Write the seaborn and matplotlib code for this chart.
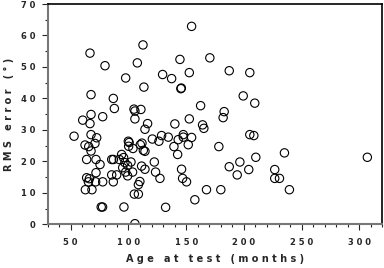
import matplotlib
matplotlib.use("Agg")
import matplotlib.pyplot as plt
import seaborn as sns
import pandas as pd
from matplotlib.ticker import MultipleLocator

# age at test (months) and RMS error (deg)
age = [154.7, 66.7, 112.6, 79.7, 107.7, 144.6, 170.5, 97.6, 129.6, 137.4,
       152.7, 187.3, 205.1, 113.4, 145.4, 145.8, 67.6, 86.9, 87.8, 199.4,
       209.4, 104.8, 105.6, 110.8, 162.5, 182.9, 182.0, 164.2, 165.3, 67.6,
       77.7, 60.4, 66.7, 105.6, 116.6, 114.3, 140.2, 152.7, 52.9, 67.6,
       72.5, 71.0, 62.4, 65.6, 67.6, 63.8, 71.9, 75.4, 85.5, 87.0,
       92.1, 95.8, 71.9, 63.8, 66.2, 65.3, 71.6, 77.7, 85.5, 89.8,
       86.9, 62.7, 68.4, 76.4, 77.6, 96.1, 99.9, 100.6, 100.2, 103.9,
       110.3, 111.7, 112.9, 114.3, 120.7, 126.4, 128.7, 134.5, 147.5, 147.5,
       143.1, 139.4, 142.6, 151.8, 154.7, 94.1, 96.9, 99.3, 102.2, 97.6,
       99.3, 103.6, 111.4, 114.3, 122.4, 123.5, 127.3, 109.9, 108.6, 105.1,
       108.6, 132.2, 105.6, 146.0, 146.9, 150.3, 157.5, 205.1, 208.6, 178.3,
       210.3, 196.5, 187.3, 204.2, 194.2, 167.6, 180.0, 226.7, 226.7, 230.8,
       235.1, 239.4, 306.9, 95.0]
rms = [62.9, 54.4, 57.0, 50.4, 51.3, 52.4, 52.9, 46.5, 47.6, 46.3,
       48.2, 48.8, 48.2, 43.6, 43.1, 43.3, 41.2, 40.0, 36.8, 40.8,
       38.5, 36.6, 36.0, 36.5, 37.7, 35.8, 33.9, 31.6, 30.5, 34.9,
       34.2, 33.1, 32.0, 33.5, 32.0, 30.2, 31.9, 33.5, 28.0, 28.5,
       27.5, 25.7, 25.2, 24.7, 23.3, 20.6, 20.6, 19.0, 20.6, 20.6,
       20.6, 21.2, 16.4, 14.8, 14.5, 13.5, 13.5, 13.5, 15.7, 15.7,
       13.5, 11.0, 11.0, 5.5, 5.5, 5.5, 26.4, 26.0, 24.8, 24.1,
       25.3, 25.8, 23.5, 23.2, 27.1, 26.4, 28.2, 27.7, 28.5, 27.7,
       26.9, 24.7, 22.2, 25.3, 27.6, 22.2, 19.6, 18.7, 19.8, 16.6,
       15.4, 16.6, 18.5, 17.5, 19.8, 16.6, 14.6, 13.6, 12.6, 9.6,
       9.6, 5.4, 0.2, 17.5, 14.6, 13.5, 7.8, 28.5, 28.2, 24.7,
       21.3, 19.8, 18.3, 17.4, 15.7, 11.0, 11.0, 17.4, 14.6, 14.6,
       22.7, 11.0, 21.3, 18.0]

xticks = [50, 100, 150, 200, 250, 300]
yticks = [0, 10, 20, 30, 40, 50, 60, 70]

df = pd.DataFrame({"age": age, "rms": rms})

sns.set_style("ticks")
fig = plt.figure(figsize=(3.84, 2.68), dpi=100)
ax = fig.add_axes([0.124, 0.163, 0.872, 0.822])

sns.scatterplot(data=df, x="age", y="rms", ax=ax, marker="o", s=36,
                facecolors="none", edgecolor="black", linewidth=0.8)

ax.set_xlim(30, 320)
ax.set_ylim(0, 70)
ax.set_xticks(xticks)
ax.set_yticks(yticks)
ax.xaxis.set_minor_locator(MultipleLocator(10))
ax.yaxis.set_minor_locator(MultipleLocator(5))

spaced = lambda s: " ".join(s)
ax.set_xticklabels([spaced(str(t)) for t in xticks], fontsize=6, weight="bold")
ax.set_yticklabels([spaced(str(t)) for t in yticks], fontsize=6, weight="bold")
ax.tick_params(axis="x", which="major", length=4, width=0.8, direction="out", pad=6)
ax.tick_params(axis="y", which="major", length=4, width=0.8, direction="out", pad=5)
ax.tick_params(axis="both", which="minor", length=2.5, width=0.8, direction="out")

for side in ["top", "right"]:
    ax.spines[side].set_color("black")
    ax.spines[side].set_linewidth(1.2)
for side in ["left", "bottom"]:
    ax.spines[side].set_color("#777777")
    ax.spines[side].set_linewidth(1.5)

ax.set_xlabel("A g e   a t   t e s t   ( m o n t h s )", fontsize=7, weight="bold", labelpad=5)
ax.set_ylabel("R M S   e r r o r   ( ° )", fontsize=7, weight="bold", labelpad=5)

fig.savefig("out.png", dpi=100)
